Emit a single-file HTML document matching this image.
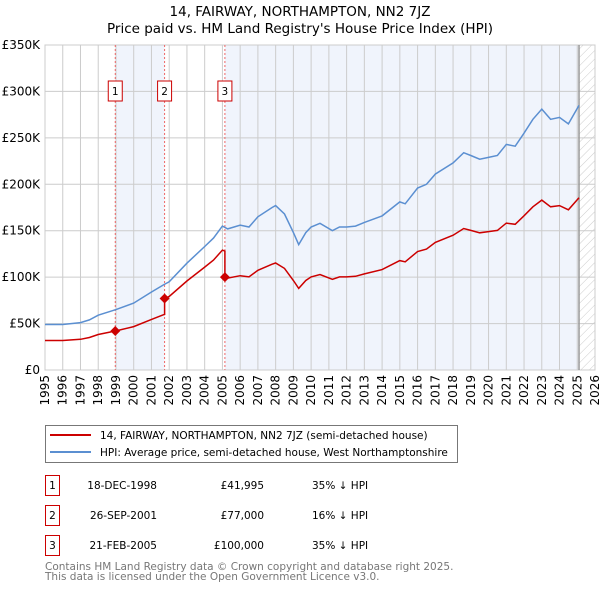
<!DOCTYPE html>
<html><head><meta charset="utf-8"><style>
body{margin:0;background:#fff;width:600px;height:590px;overflow:hidden;font-family:"DejaVu Sans","Liberation Sans",sans-serif}
svg text{font-family:"DejaVu Sans","Liberation Sans",sans-serif}
</style></head><body>
<svg id="chart" width="600" height="590" xmlns="http://www.w3.org/2000/svg">
<defs><pattern id="hatch" patternUnits="userSpaceOnUse" width="6" height="6" patternTransform="rotate(45)"><line x1="0" y1="0" x2="0" y2="6" stroke="#ccc" stroke-width="1"/></pattern></defs>
<text x="300" y="16" text-anchor="middle" font-size="13.5">14, FAIRWAY, NORTHAMPTON, NN2 7JZ</text>
<text x="300" y="33" text-anchor="middle" font-size="13.5">Price paid vs. HM Land Registry's House Price Index (HPI)</text>
<g id="plot"></g>
<g id="legend">
<rect x="45.5" y="425.5" width="412" height="37" fill="#fff" stroke="#777"/>
<line x1="50" y1="435" x2="91" y2="435" stroke="#cc0000" stroke-width="2"/>
<text x="100" y="439" font-size="10.5">14, FAIRWAY, NORTHAMPTON, NN2 7JZ (semi-detached house)</text>
<line x1="50" y1="452" x2="91" y2="452" stroke="#5b8fd1" stroke-width="2"/>
<text x="100" y="456" font-size="10.5">HPI: Average price, semi-detached house, West Northamptonshire</text>
</g>
<g id="table"></g>
<text x="45" y="570" font-size="10.5" fill="#777">Contains HM Land Registry data © Crown copyright and database right 2025.</text>
<text x="45" y="580" font-size="10.5" fill="#777">This data is licensed under the Open Government Licence v3.0.</text>
</svg>
<script>
const hpiYears=[1995,1996,1997,1997.5,1998,1999,2000,2001,2001.7,2002,2003,2004,2004.5,2005,2005.3,2006,2006.5,2007,2007.8,2008,2008.5,2009,2009.3,2009.7,2010,2010.5,2011.2,2011.6,2012,2012.5,2013,2014,2015,2015.3,2016,2016.5,2017,2018,2018.6,2019,2019.5,2020,2020.5,2021,2021.5,2022,2022.5,2023,2023.5,2024,2024.5,2025.1];
const hpiValues=[49,49,51,54,59,65,72,84,92,95,115,133,142,155,152,156,154,165,175,177,168,148,135,148,154,158,150,154,154,155,159,166,181,179,196,200,211,223,234,231,227,229,231,243,241,255,270,281,270,272,265,285];
const sales=[[1998.96,41995],[2001.74,77000],[2005.14,100000]];
const yTicks=[0,50,100,150,200,250,300,350];
const xTicks=[];for(let y=1995;y<=2026;y++)xTicks.push(y);
const X0=45,X1=595,Y0=370,Y1=45;
const sx=t=>X0+(t-1995)*(X1-X0)/31;
const sy=v=>Y0-v*(Y0-Y1)/350;
const NS="http://www.w3.org/2000/svg";
const plot=document.getElementById('plot');
function mk(tag,attrs,parent){const e=document.createElementNS(NS,tag);for(const k in attrs)e.setAttribute(k,attrs[k]);(parent||plot).appendChild(e);return e;}
function hpiAt(t){for(let i=0;i<hpiYears.length-1;i++){if(t<=hpiYears[i+1]){const f=(t-hpiYears[i])/(hpiYears[i+1]-hpiYears[i]);return hpiValues[i]+f*(hpiValues[i+1]-hpiValues[i]);}}return hpiValues[hpiValues.length-1];}
let sh=mk('rect',{x:sx(sales[0][0]),y:Y1,width:sx(sales[1][0])-sx(sales[0][0]),height:Y0-Y1,fill:'#f0f4fc'});


const endT=2025.1;
sh=mk('rect',{x:sx(sales[2][0]),y:Y1,width:sx(endT)-sx(sales[2][0]),height:Y0-Y1,fill:'#f0f4fc'});


sh=mk('rect',{x:sx(endT),y:Y1,width:X1-sx(endT),height:Y0-Y1,fill:'url(#hatch)'});


xTicks.forEach(t=>{const l=mk('line',{x1:sx(t),x2:sx(t),y1:Y1,y2:Y0,stroke:'#ccc'});


const tx=mk('text',{x:0,y:0,'font-size':12,'text-anchor':'end',transform:`translate(${sx(t)+4},${Y0+5}) rotate(-90)`});tx.textContent=t;

});
yTicks.forEach(v=>{const l=mk('line',{x1:X0,x2:X1,y1:sy(v),y2:sy(v),stroke:'#ccc'});


const tx=mk('text',{x:X0-5,y:sy(v)+4,'font-size':12,'text-anchor':'end'});tx.textContent=v===0?'£0':'£'+v+'K';

});
let el=mk('rect',{x:X0,y:Y1,width:X1-X0,height:Y0-Y1,fill:'none',stroke:'#ccc'});


el=mk('line',{x1:sx(endT),x2:sx(endT),y1:Y1,y2:Y0,stroke:'#999','stroke-width':1.5});


sales.forEach((s,i)=>{const l=mk('line',{x1:sx(s[0]),x2:sx(s[0]),y1:Y1,y2:Y0,stroke:'#e66','stroke-dasharray':'2,2'});


const g=mk('g',{});


mk('rect',{x:sx(s[0])-7,y:81,width:14,height:20,fill:'#fff',stroke:'#c00'},g);
const t=mk('text',{x:sx(s[0]),y:95,'font-size':10.5,'text-anchor':'middle'},g);t.textContent=i+1;});
let d=hpiYears.map((t,i)=>(i?'L':'M')+sx(t).toFixed(1)+','+sy(hpiValues[i]).toFixed(1)).join('');
el=mk('path',{d,fill:'none',stroke:'#5b8fd1','stroke-width':1.5});


const pts=[];
function seg(a,b,refT,refV){const r=refV/1000/hpiAt(refT);hpiYears.forEach((t,i)=>{if(t>=a&&t<b)pts.push([t,hpiValues[i]*r]);});}
seg(1994,sales[0][0],sales[0][0],sales[0][1]);
pts.push([sales[0][0],sales[0][1]/1000]);
seg(sales[0][0],sales[1][0],sales[0][0],sales[0][1]);
pts.push([sales[1][0],hpiAt(sales[1][0])*sales[0][1]/1000/hpiAt(sales[0][0])]);
pts.push([sales[1][0],sales[1][1]/1000]);
seg(sales[1][0],sales[2][0],sales[1][0],sales[1][1]);
pts.push([sales[2][0],hpiAt(sales[2][0])*sales[1][1]/1000/hpiAt(sales[1][0])]);
pts.push([sales[2][0],sales[2][1]/1000]);
seg(sales[2][0],2026,sales[2][0],sales[2][1]);
d=pts.map((p,i)=>(i?'L':'M')+sx(p[0]).toFixed(1)+','+sy(p[1]).toFixed(1)).join('');
el=mk('path',{d,fill:'none',stroke:'#cc0000','stroke-width':1.5});


sales.forEach(s=>{const x=sx(s[0]),y=sy(s[1]/1000);const p=mk('path',{d:`M${x},${y-5}L${x+5},${y}L${x},${y+5}L${x-5},${y}Z`,fill:'#cc0000'});

});
const rows=[['1','18-DEC-1998','£41,995','35% ↓ HPI'],['2','26-SEP-2001','£77,000','16% ↓ HPI'],['3','21-FEB-2005','£100,000','35% ↓ HPI']];
const tb=document.getElementById('table');
rows.forEach((r,i)=>{const y=475+i*30;const g=mk('g',{},tb);


mk('rect',{x:45.5,y:y+0.5,width:14,height:20,fill:'#fff',stroke:'#c00'},g);
let t=mk('text',{x:52.5,y:y+14,'font-size':10.5,'text-anchor':'middle'},g);t.textContent=r[0];
t=mk('text',{x:157,y:y+14,'font-size':10.5,'text-anchor':'end'},g);t.textContent=r[1];
t=mk('text',{x:264,y:y+14,'font-size':10.5,'text-anchor':'end'},g);t.textContent=r[2];
t=mk('text',{x:312,y:y+14,'font-size':10.5},g);t.textContent=r[3];});
</script>
</body></html>
